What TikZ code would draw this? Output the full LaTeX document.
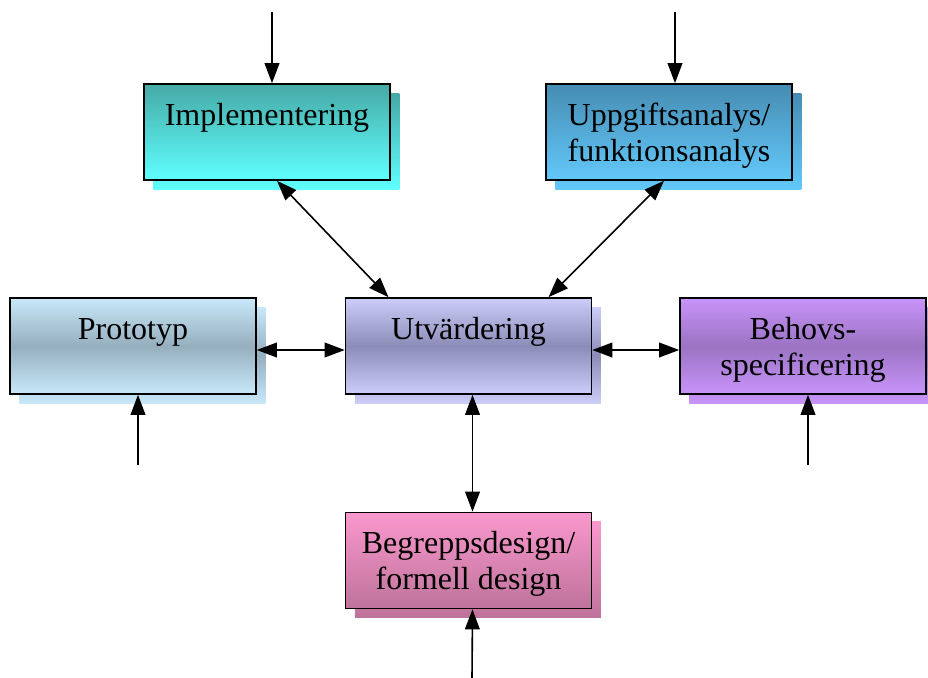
\documentclass[tikz,border=0pt]{standalone}
\usepackage{fontspec}
\setmainfont{Liberation Serif}
\usetikzlibrary{arrows.meta,calc,shadows}

\definecolor{impltop}{RGB}{70,170,166}
\definecolor{implbot}{RGB}{95,255,255}
\definecolor{uppgtop}{RGB}{70,140,178}
\definecolor{uppgbot}{RGB}{98,200,250}
\definecolor{protoout}{RGB}{200,232,250}
\definecolor{protomid}{RGB}{150,175,190}
\definecolor{utvout}{RGB}{205,205,250}
\definecolor{utvmid}{RGB}{140,140,185}
\definecolor{behovout}{RGB}{200,148,250}
\definecolor{behovmid}{RGB}{155,115,195}
\definecolor{begrtop}{RGB}{250,152,205}
\definecolor{begrbot}{RGB}{190,115,155}

\tikzset{
  box/.style={draw=black, line width=1.2pt, inner sep=0pt, minimum width=184.5pt,
    text height=30.75pt, text depth=41.25pt, align=center,
    font=\fontsize{24}{27}\selectfont},
  twoline/.style={text height=57.75pt, text depth=14.25pt},
  vshade/.style 2 args={box, top color=#1, bottom color=#2,
    general shadow={shadow xshift=7pt, shadow yshift=-7pt, draw=none,
      top color=#1, bottom color=#2}},
  mshade/.style 2 args={box, top color=#1, bottom color=#1, middle color=#2,
    general shadow={shadow xshift=7pt, shadow yshift=-7pt, draw=none,
      top color=#1, bottom color=#1, middle color=#2}},
  link/.style={line width=1.2pt, {Triangle[length=15pt,width=11pt]}-{Triangle[length=15pt,width=11pt]}},
  feed/.style={line width=1.2pt, -{Triangle[length=15pt,width=11pt]}}
}

\begin{document}
\begin{tikzpicture}[x=0.75pt, y=-0.75pt]
  \useasboundingbox (0,0) rectangle (928,678);

  \node[vshade={impltop}{implbot}] (impl) at (267,132) {Implementering};
  \node[vshade={uppgtop}{uppgbot}, twoline] (uppg) at (669,132) {Uppgiftsanalys/\\funktionsanalys};
  \node[mshade={protoout}{protomid}] (proto) at (133,346) {Prototyp};
  \node[mshade={utvout}{utvmid}] (utv) at (468.5,346) {Utvärdering};
  \node[mshade={behovout}{behovmid}, twoline] (behov) at (803,346) {Behovs-\\specificering};
  \node[vshade={begrtop}{begrbot}, twoline] (begr) at (468.5,560.5) {Begreppsdesign/\\formell design};

  \coordinate (inimpl) at (272,12);
  \coordinate (inuppg) at (675,12);
  \coordinate (inproto) at (138,465);
  \coordinate (inbehov) at (808,465);
  \coordinate (inbegr) at (472,678);

  \draw[feed] (inimpl) -- ($(impl.north)+(5,0)$);
  \draw[feed] (inuppg) -- ($(uppg.north)+(6,0)$);
  \draw[feed] (inproto) -- ($(proto.south)+(5,0)$);
  \draw[feed] (inbehov) -- ($(behov.south)+(5,0)$);
  \draw[feed] (inbegr) -- ($(begr.south)+(4,0)$);

  \draw[link] ($(impl.south)+(10,0)$) -- ($(utv.north)+(-80,0)$);
  \draw[link] ($(uppg.south)+(-5,0)$) -- ($(utv.north)+(80,0)$);
  \draw[link] ($(proto.east)+(0,4)$) -- ($(utv.west)+(0,4)$);
  \draw[link] ($(utv.east)+(0,4)$) -- ($(behov.west)+(0,4)$);
  \draw[link] ($(utv.south)+(4,0)$) -- ($(begr.north)+(4,0)$);
\end{tikzpicture}
\end{document}
